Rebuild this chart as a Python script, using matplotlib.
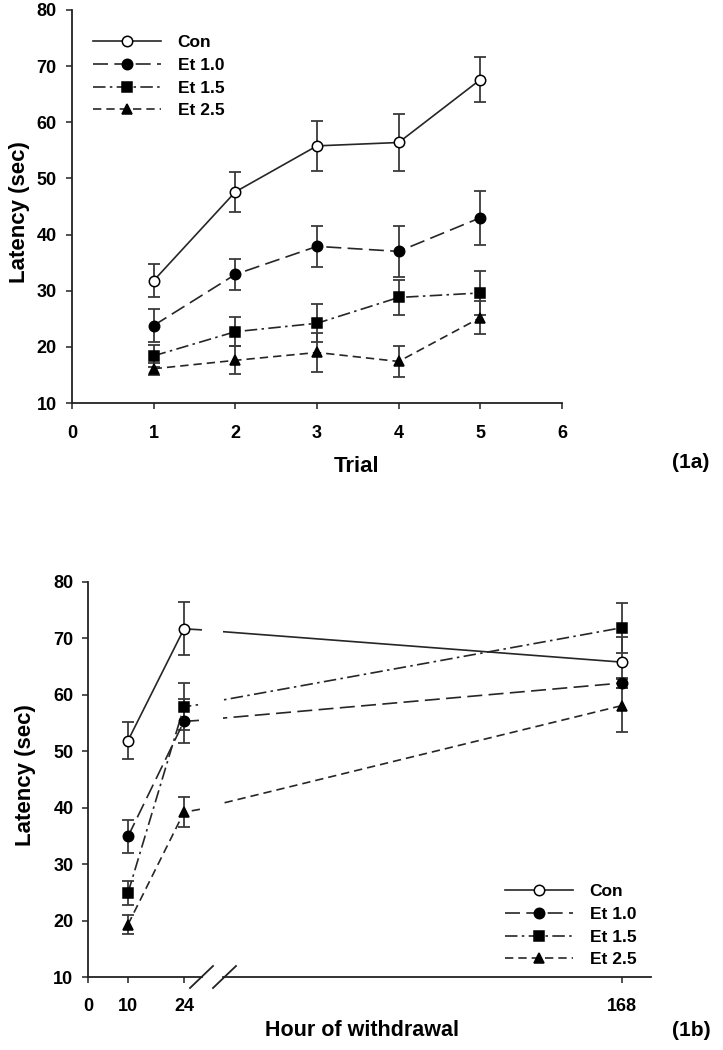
import matplotlib
matplotlib.use("Agg")
import matplotlib.pyplot as plt
from matplotlib.lines import Line2D

plt.rcParams['font.family'] = ['Liberation Sans', 'DejaVu Sans']
plt.rcParams['font.weight'] = 'bold'

# ---------------- data ----------------
series_labels = ["Con", "Et 1.0", "Et 1.5", "Et 2.5"]

trials = [1, 2, 3, 4, 5]
con_a = [31.8, 47.6, 55.8, 56.4, 67.6]
con_a_err = [3.0, 3.6, 4.5, 5.1, 4.0]
et10_a = [23.8, 32.9, 37.9, 37.0, 43.0]
et10_a_err = [2.9, 2.7, 3.6, 4.5, 4.8]
et15_a = [18.4, 22.7, 24.2, 28.8, 29.6]
et15_a_err = [2.0, 2.6, 3.4, 3.1, 4.0]
et25_a = [16.1, 17.6, 19.0, 17.4, 25.2]
et25_a_err = [1.1, 2.5, 3.4, 2.7, 2.9]

hours = [10, 24, 168]
con_b = [51.9, 71.7, 65.8]
con_b_err = [3.3, 4.7, 4.5]
et10_b = [34.9, 55.3, 62.1]
et10_b_err = [3.0, 3.9, 0.8]
et15_b = [24.9, 57.9, 71.9]
et15_b_err = [2.1, 4.2, 4.4]
et25_b = [19.3, 39.2, 58.1]
et25_b_err = [1.7, 2.7, 4.7]

top_xticks = [0, 1, 2, 3, 4, 5, 6]
yticks = [10, 20, 30, 40, 50, 60, 70, 80]
left_xticks = [0, 10, 24]
right_xticks = [168]

# ---------------- styles ----------------
LC = '#262626'
EC = '#3a3a3a'
styles = [
    dict(ls='-', marker='o', mfc='white'),
    dict(ls=(0, (9.0, 3.8)), marker='o', mfc='black'),
    dict(ls=(0, (7.5, 2.6, 1.5, 2.6)), marker='s', mfc='black'),
    dict(ls=(0, (5.0, 3.0)), marker='^', mfc='black'),
]
msizes = [7.5, 7.5, 6.6, 7.8]

W, H = 723, 1050
fig = plt.figure(figsize=(W / 100, H / 100), dpi=100)


def fx(px):
    return px / W


def fy(py):
    return 1 - py / H


def style_axes(ax):
    ax.spines['top'].set_visible(False)
    ax.spines['right'].set_visible(False)
    for s in ax.spines.values():
        s.set_linewidth(1.3)
        s.set_color('#222222')
    ax.tick_params(direction='out', length=4, width=1.1, color='#222222',
                   labelsize=13)
    for lab in ax.get_xticklabels() + ax.get_yticklabels():
        lab.set_fontweight('bold')


def draw_series(ax, x, ys, errs):
    handles = []
    for i, (y, e) in enumerate(zip(ys, errs)):
        ax.errorbar(x, y, yerr=e, fmt='none', ecolor=EC, elinewidth=1.3,
                    capsize=4.0, capthick=1.3, zorder=2)
        st = styles[i]
        ln, = ax.plot(x, y, color=LC, lw=1.2, linestyle=st['ls'],
                      marker=st['marker'], markersize=msizes[i],
                      markerfacecolor=st['mfc'], markeredgecolor='black',
                      markeredgewidth=1.1, label=series_labels[i], zorder=3)
        handles.append(ln)
    return handles


def make_legend(ax, handles, anchor):
    leg = ax.legend(handles=handles, loc='upper left', bbox_to_anchor=anchor,
                    frameon=False, fontsize=12.5, handlelength=3.9,
                    handletextpad=0.98, labelspacing=0.44, borderaxespad=0,
                    borderpad=0.4)
    for t in leg.get_texts():
        t.set_fontweight('bold')
    return leg


# ---------------- panel 1a ----------------
ax1 = fig.add_axes([fx(72), fy(403), fx(562) - fx(72), fy(10) - fy(403)])
h1 = draw_series(ax1, trials, [con_a, et10_a, et15_a, et25_a],
                 [con_a_err, et10_a_err, et15_a_err, et25_a_err])
ax1.set_xlim(0, 6)
ax1.set_ylim(10, 80)
ax1.set_xticks(top_xticks)
ax1.set_yticks(yticks)
style_axes(ax1)
ax1.tick_params(axis='x', pad=12)
ax1.tick_params(axis='y', pad=7)
make_legend(ax1, h1, ((86 - 72) / 490, (403 - 28) / 393))

fig.text(fx(20), fy(212), "Latency (sec)", rotation=90, ha='center',
         va='center', fontsize=16, fontweight='bold')
fig.text(fx(357), fy(467), "Trial", ha='center', va='center', fontsize=16,
         fontweight='bold')
fig.text(fx(691), fy(462), "(1a)", ha='center', va='center', fontsize=15,
         fontweight='bold')

# ---------------- panel 1b (broken axis) ----------------
yb0, yb1 = 977, 582
axL = fig.add_axes([fx(88), fy(yb0), fx(202) - fx(88), fy(yb1) - fy(yb0)])
axR = fig.add_axes([fx(223), fy(yb0), fx(651) - fx(223), fy(yb1) - fy(yb0)],
                   sharey=axL)
ys_b = [con_b, et10_b, et15_b, et25_b]
errs_b = [con_b_err, et10_b_err, et15_b_err, et25_b_err]
draw_series(axL, hours, ys_b, errs_b)
h2 = draw_series(axR, hours, ys_b, errs_b)

axL.set_xlim(0, 28.5)
axR.set_xlim(36.3, 177.6)
axL.set_ylim(10, 80)
axL.set_yticks(yticks)
axL.set_xticks(left_xticks)
axR.set_xticks(right_xticks)
style_axes(axL)
style_axes(axR)
axR.spines['left'].set_visible(False)
axR.tick_params(axis='y', left=False, labelleft=False)
axL.tick_params(axis='x', pad=11)
axR.tick_params(axis='x', pad=11)
axL.tick_params(axis='y', pad=6.5)

make_legend(axR, h2, ((498 - 223) / (651 - 223), (977 - 877) / (977 - 582)))

# break marks
for (x0, y0, x1, y1) in [(190, 988, 213, 966), (213, 988, 236, 966)]:
    fig.add_artist(Line2D([fx(x0), fx(x1)], [fy(y0), fy(y1)],
                          transform=fig.transFigure, color='#222222', lw=1.3))

fig.text(fx(26), fy(775), "Latency (sec)", rotation=90, ha='center',
         va='center', fontsize=16, fontweight='bold')
fig.text(fx(362), fy(1031), "Hour of withdrawal", ha='center', va='center',
         fontsize=15.5, fontweight='bold')
fig.text(fx(691), fy(1031), "(1b)", ha='center', va='center', fontsize=15,
         fontweight='bold')

fig.savefig("out.png", dpi=100)
